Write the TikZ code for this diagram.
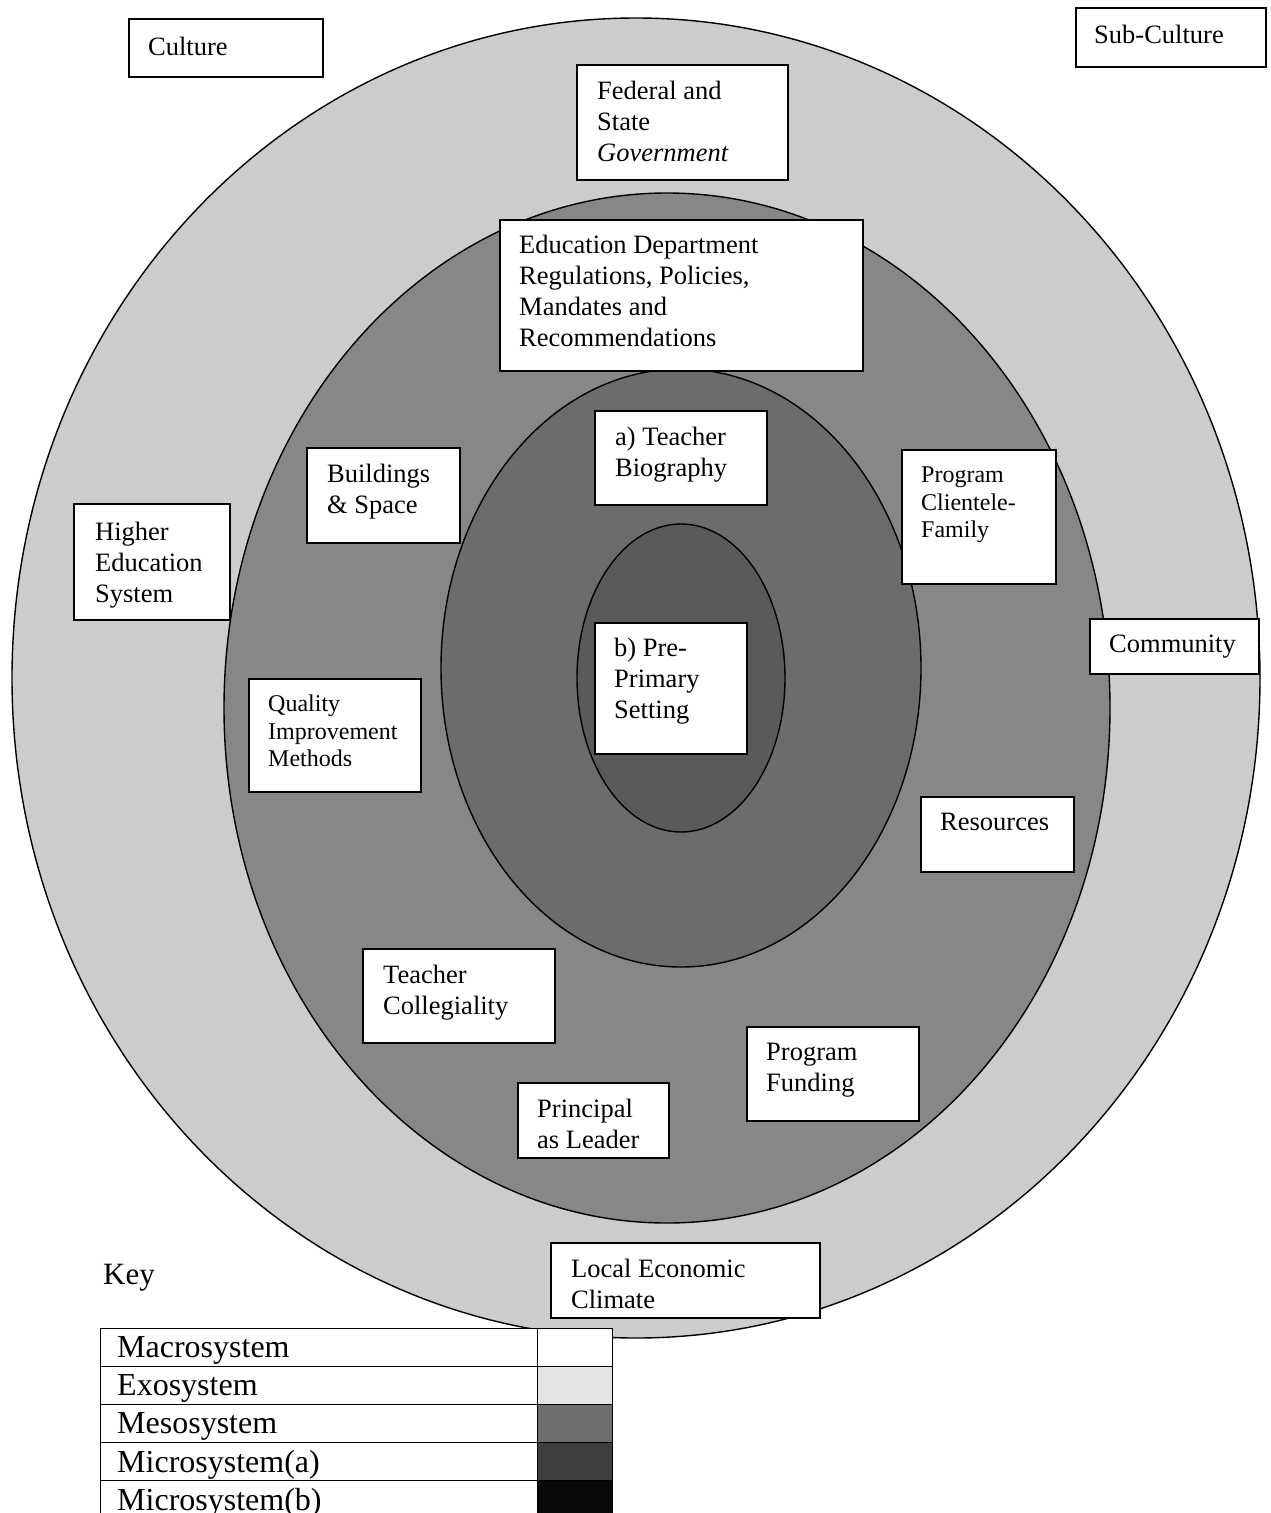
\documentclass[tikz,border=0pt]{standalone}
\usepackage{fontspec}
\setmainfont{Liberation Serif}
\newcommand\fsN{\fontsize{26.5}{31}\selectfont}
\newcommand\fsS{\fontsize{24}{27.5}\selectfont}
\newcommand\fsK{\fontsize{32}{38}\selectfont}
\definecolor{exo}{RGB}{204,204,204}
\definecolor{meso}{RGB}{135,135,135}
\definecolor{microa}{RGB}{108,108,108}
\definecolor{microb}{RGB}{90,90,90}
\definecolor{kexo}{RGB}{228,228,228}
\definecolor{kmeso}{RGB}{110,110,110}
\definecolor{kmicroa}{RGB}{62,62,62}
\definecolor{kmicrob}{RGB}{8,8,8}
\tikzset{
  box/.style={draw=black, fill=white, line width=1.6pt, inner sep=0pt, anchor=north west},
  lbl/.style={inner sep=0pt, anchor=north west, align=left, font=\fsN},
  lbls/.style={inner sep=0pt, anchor=north west, align=left, font=\fsS},
  klbl/.style={inner sep=0pt, anchor=north west, align=left, font=\fsK},
  ring/.style={draw=black, line width=1.4pt},
  cell/.style={draw=black, line width=1pt, inner sep=0pt, anchor=north west},
}
\begin{document}
\begin{tikzpicture}[x=1pt,y=-1pt]
\useasboundingbox (0,0) rectangle (1271,1513);
% rings
\filldraw[ring, fill=exo] (636,678) ellipse [x radius=624pt, y radius=660pt];
\filldraw[ring, fill=meso] (667,708) ellipse [x radius=443pt, y radius=515pt];
\filldraw[ring, fill=microa] (681,668) ellipse [x radius=240pt, y radius=299pt];
\filldraw[ring, fill=microb] (681,678) ellipse [x radius=104pt, y radius=154pt];

% boxes
\node[box, minimum width=194pt, minimum height=58pt] (cult) at (128,18) {};
\node[lbl] (cult-t) at (148,37) {Culture};

\node[box, minimum width=190pt, minimum height=59pt] (sub) at (1075,7) {};
\node[lbl] (sub-t) at (1094,25) {Sub-Culture};

\node[box, minimum width=211pt, minimum height=115pt] (fed) at (576,64) {};
\node[lbl] (fed-t) at (597,81) {Federal and\\State\\\textit{Government}};

\node[box, minimum width=363pt, minimum height=151pt] (edu) at (499,219) {};
\node[lbl] (edu-t) at (519,235) {Education Department\\Regulations, Policies,\\Mandates and\\Recommendations};

\node[box, minimum width=172pt, minimum height=94pt] (bio) at (594,410) {};
\node[lbl] (bio-t) at (615,427) {a) Teacher\\Biography};

\node[box, minimum width=153pt, minimum height=95pt] (bld) at (306,447) {};
\node[lbl] (bld-t) at (327,464) {Buildings\\\& Space};

\node[box, minimum width=154pt, minimum height=134pt] (cli) at (901,449) {};
\node[lbls] (cli-t) at (921,467) {Program\\Clientele-\\Family};

\node[box, minimum width=156pt, minimum height=116pt] (hes) at (73,503) {};
\node[lbl] (hes-t) at (95,522) {Higher\\Education\\System};

\node[box, minimum width=169pt, minimum height=55pt] (com) at (1089,618) {};
\node[lbl] (com-t) at (1109,635) {Community};

\node[box, minimum width=152pt, minimum height=131pt] (pre) at (594,622) {};
\node[lbl] (pre-t) at (614,638) {b) Pre-\\Primary\\Setting};

\node[box, minimum width=172pt, minimum height=113pt] (qim) at (248,678) {};
\node[lbls] (qim-t) at (268,695) {Quality\\Improvement\\Methods};

\node[box, minimum width=153pt, minimum height=75pt] (res) at (920,796) {};
\node[lbl] (res-t) at (940,813) {Resources};

\node[box, minimum width=192pt, minimum height=94pt] (col) at (362,948) {};
\node[lbl] (col-t) at (383,965) {Teacher\\Collegiality};

\node[box, minimum width=172pt, minimum height=94pt] (fund) at (746,1026) {};
\node[lbl] (fund-t) at (766,1043) {Program\\Funding};

\node[box, minimum width=151pt, minimum height=75pt] (prin) at (517,1082) {};
\node[lbl] (prin-t) at (537,1099) {Principal\\as Leader};

\node[box, minimum width=269pt, minimum height=75pt] (lec) at (550,1242) {};
\node[lbl] (lec-t) at (571,1259) {Local Economic\\Climate};

% key
\node[klbl, font=\fontsize{31}{36}\selectfont] (key) at (103,1264) {Key};

\node[cell, fill=white, minimum width=437pt, minimum height=38pt] (r1) at (100,1328) {};
\node[cell, fill=white, minimum width=75pt, minimum height=38pt] (s1) at (537,1328) {};
\node[cell, fill=white, minimum width=437pt, minimum height=38pt] (r2) at (100,1366) {};
\node[cell, fill=kexo, minimum width=75pt, minimum height=38pt] (s2) at (537,1366) {};
\node[cell, fill=white, minimum width=437pt, minimum height=38pt] (r3) at (100,1404) {};
\node[cell, fill=kmeso, minimum width=75pt, minimum height=38pt] (s3) at (537,1404) {};
\node[cell, fill=white, minimum width=437pt, minimum height=38pt] (r4) at (100,1442) {};
\node[cell, fill=kmicroa, minimum width=75pt, minimum height=38pt] (s4) at (537,1442) {};
\node[cell, fill=white, minimum width=437pt, minimum height=40pt] (r5) at (100,1480) {};
\node[cell, fill=kmicrob, minimum width=75pt, minimum height=40pt] (s5) at (537,1480) {};

\node[klbl] (k1) at (117,1336) {Macrosystem};
\node[klbl] (k2) at (117,1374) {Exosystem};
\node[klbl] (k3) at (117,1412) {Mesosystem};
\node[klbl] (k4) at (117,1450) {Microsystem(a)};
\node[klbl] (k5) at (117,1488) {Microsystem(b)};
\end{tikzpicture}
\end{document}
